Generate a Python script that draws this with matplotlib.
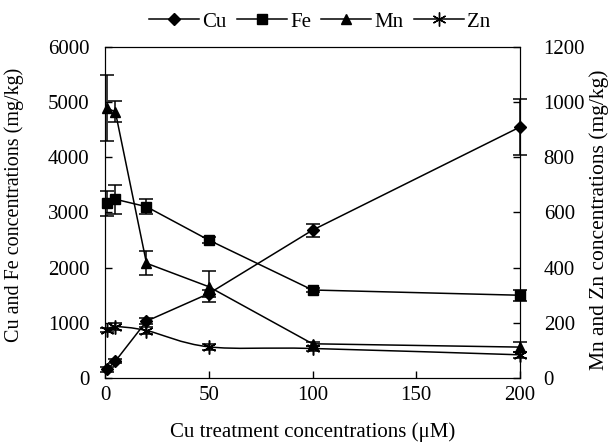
import numpy as np
import matplotlib
matplotlib.use('Agg')
from matplotlib import pyplot as plt
from matplotlib.path import Path
from matplotlib.patches import PathPatch
from matplotlib.lines import Line2D

plt.rcParams['font.family'] = ['Liberation Serif', 'DejaVu Serif']

# Cu treatment concentrations (uM)
cu_treat = [1, 5, 20, 50, 100, 200]

# left axis (mg/kg)
cu = [155, 305, 1030, 1530, 2680, 4550]
cu_err = [40, 40, 60, 70, 120, 500]
fe = [3165, 3240, 3105, 2500, 1595, 1500]
fe_err = [230, 260, 140, 60, 30, 100]

# right axis (mg/kg)
mn = [978, 965, 416, 331, 124, 112]
mn_err = [120, 38, 44, 57, 8, 18]
zn = [174, 186, 172, 113, 107, 84]
zn_err = [8, 12, 14, 10, 8, 10]

asterisk = (6, 2, 0)
fs = 15

fig = plt.figure(figsize=(6.09, 4.46), dpi=100)
ax = fig.add_axes([0.1724, 0.1525, 0.6815, 0.7421])
ax2 = ax.twinx()

ebkw = dict(color='black', ecolor='black', capsize=5, elinewidth=1.1,
            capthick=1.1, linewidth=1.1, clip_on=False)
ax.errorbar(cu_treat, cu, yerr=cu_err, marker='D', markersize=6, **ebkw)
ax.errorbar(cu_treat, fe, yerr=fe_err, marker='s', markersize=7, **ebkw)
ax2.errorbar(cu_treat, mn, yerr=mn_err, marker='^', markersize=7, **ebkw)

# Zn: smoothed line (Catmull-Rom as cubic Bezier), markers + error bars
pts = np.column_stack([cu_treat, zn]).astype(float)
n = len(pts)
verts = [pts[0]]
codes = [Path.MOVETO]
for i in range(n - 1):
    p_prev = pts[i - 1] if i > 0 else pts[i]
    p_next2 = pts[i + 2] if i + 2 < n else pts[i + 1]
    c1 = pts[i] + (pts[i + 1] - p_prev) / 6.0
    c2 = pts[i + 1] - (p_next2 - pts[i]) / 6.0
    verts += [c1, c2, pts[i + 1]]
    codes += [Path.CURVE4] * 3
ax2.add_patch(PathPatch(Path(verts, codes), facecolor='none', edgecolor='black', linewidth=1.1))
ax2.errorbar(cu_treat, zn, yerr=zn_err, marker=asterisk, linestyle='none',
             color='black', ecolor='black', capsize=5, elinewidth=1.1,
             capthick=1.1, markersize=10, markeredgewidth=1.1, clip_on=False)

ax.set_xlim(0, 200)
ax.set_ylim(0, 6000)
ax2.set_ylim(0, 1200)
ax.set_xticks([0, 50, 100, 150, 200])
ax.set_yticks(range(0, 6001, 1000))
ax2.set_yticks(range(0, 1201, 200))

ax.tick_params(axis='x', direction='in', length=5, labelsize=fs, width=1, pad=6)
ax.tick_params(axis='y', direction='in', length=5, labelsize=fs, width=1, pad=11)
ax2.tick_params(direction='in', length=5, labelsize=fs, width=1, pad=17)

ax.set_xlabel('Cu treatment concentrations (μM)', fontsize=fs, labelpad=12)
fig.text(0.024, 0.54, 'Cu and Fe concentrations (mg/kg)', fontsize=14.5,
         rotation=90, ha='center', va='center')
fig.text(0.983, 0.507, 'Mn and Zn concentrations (mg/kg)', fontsize=15.5,
         rotation=90, ha='center', va='center')

handles = [
    Line2D([], [], color='black', marker='D', markersize=6, linewidth=1.1),
    Line2D([], [], color='black', marker='s', markersize=7, linewidth=1.1),
    Line2D([], [], color='black', marker='^', markersize=7, linewidth=1.1),
    Line2D([], [], color='black', marker=asterisk, markersize=10, linewidth=1.1),
]
fig.legend(handles, ['Cu', 'Fe', 'Mn', 'Zn'], loc='upper center', ncol=4,
           frameon=False, fontsize=fs, bbox_to_anchor=(0.525, 1.015),
           handlelength=2.4, handletextpad=0.15, columnspacing=0.5)

plt.savefig('out.png', dpi=100)
